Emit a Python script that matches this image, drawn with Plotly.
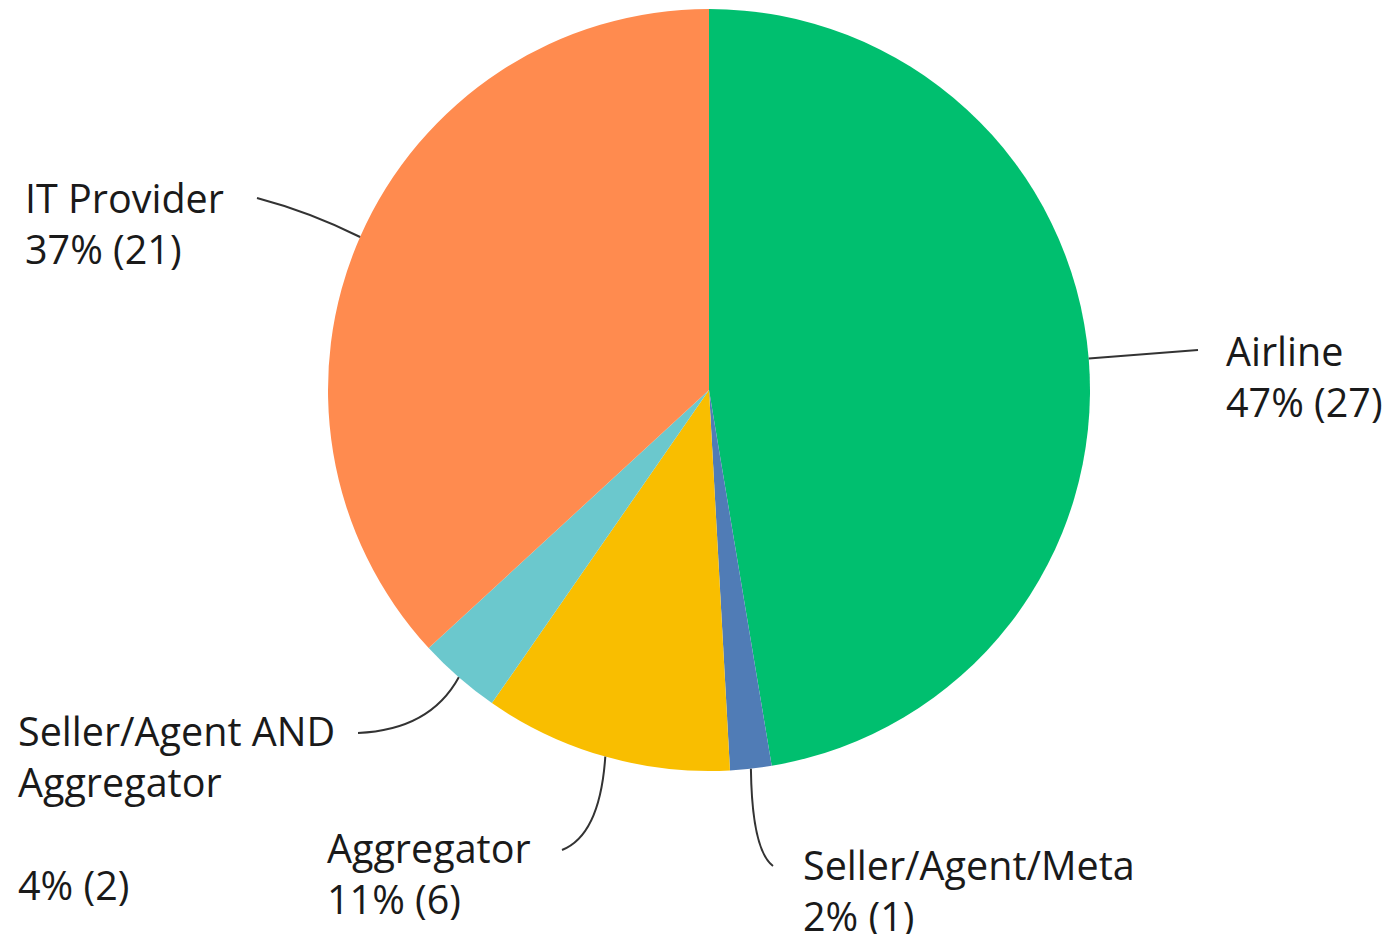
import math
import plotly.graph_objects as go

# ---- data ----
categories = ["Airline", "Seller/Agent/Meta", "Aggregator", "Seller/Agent AND Aggregator", "IT Provider"]
label_lines = ["Airline", "Seller/Agent/Meta", "Aggregator", "Seller/Agent AND<br>Aggregator<br>", "IT Provider"]
counts = [27, 1, 6, 2, 21]
colors = ["#00BF6F", "#507CB6", "#F9BE00", "#6BC8CD", "#FF8B4F"]

# ---- layout constants (screen pixels) ----
WIN_W, WIN_H = 1394, 934
OFF = 8                      # default page margin around the plot
W, H = WIN_W - OFF, WIN_H - OFF
CX, CY, R = 709, 390, 381
FONT = dict(family="Open Sans, sans-serif", size=39.5, color="#1a1a1a")
# label left x, label top y, leader end, leader control point
label_pos = {
    "Airline": (1224, 322, (1198, 350), (1144, 354)),
    "Seller/Agent/Meta": (801, 836, (773, 866), (752, 850)),
    "Aggregator": (325, 819, (562, 850), (600, 835)),
    "Seller/Agent AND Aggregator": (16, 702, (358, 733), (430, 730)),
    "IT Provider": (23, 169, (257, 198), (310, 212)),
}

total = sum(counts)
fig = go.Figure()
fig.add_trace(go.Pie(
    labels=categories, values=counts, sort=False, direction="clockwise", rotation=0,
    marker=dict(colors=colors, line=dict(width=0)), textinfo="none", hoverinfo="label+value+percent",
    showlegend=False,
    domain=dict(x=[(CX - R - OFF) / W, (CX + R - OFF) / W],
                y=[1 - (CY + R - OFF) / H, 1 - (CY - R - OFF) / H]),
))

shapes, annotations = [], []
cum = 0
for cat, lines, c in zip(categories, label_lines, counts):
    mid = (cum + c / 2) / total * 2 * math.pi
    cum += c
    sx = CX + R * math.sin(mid)
    sy = CY - R * math.cos(mid)
    lx, ly, (ex, ey), (qx, qy) = label_pos[cat]
    shapes.append(dict(type="path", xref="x", yref="y",
                       path=f"M {sx:.1f},{sy:.1f} Q {qx},{qy} {ex},{ey}",
                       line=dict(color="#333333", width=2)))
    pct = round(100 * c / total)
    annotations.append(dict(x=lx, y=ly, xref="x", yref="y", xanchor="left", yanchor="top",
                            align="left", showarrow=False, font=FONT,
                            text=f"{lines}<br>{pct}% ({c})"))

fig.update_layout(
    width=W, height=H, margin=dict(l=0, r=0, t=0, b=0),
    paper_bgcolor="white", plot_bgcolor="white",
    xaxis=dict(range=[OFF, WIN_W], visible=False, fixedrange=True, domain=[0, 1]),
    yaxis=dict(range=[WIN_H, OFF], visible=False, fixedrange=True, domain=[0, 1]),
    shapes=shapes, annotations=annotations,
)
fig.write_html("out.html")
